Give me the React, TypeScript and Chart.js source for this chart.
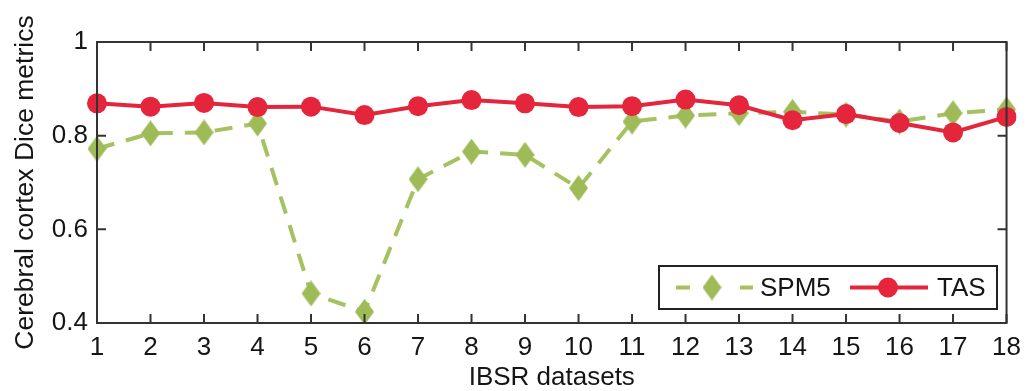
import React, { useEffect, useRef } from 'react';
import { Chart, registerables } from 'chart.js';

Chart.register(...registerables);

const datasetLabels = ['1', '2', '3', '4', '5', '6', '7', '8', '9', '10', '11', '12', '13', '14', '15', '16', '17', '18'];
const spm5Values = [0.772, 0.805, 0.807, 0.826, 0.463, 0.424, 0.707, 0.766, 0.759, 0.688, 0.83, 0.843, 0.848, 0.851, 0.845, 0.83, 0.848, 0.856];
const tasValues = [0.869, 0.862, 0.87, 0.861, 0.862, 0.844, 0.863, 0.876, 0.869, 0.861, 0.863, 0.877, 0.865, 0.833, 0.846, 0.827, 0.807, 0.84];
const yTickValues = [0.4, 0.6, 0.8, 1];
const seriesNames = ['SPM5', 'TAS'];
const axisTitles = { x: 'IBSR datasets', y: 'Cerebral cortex Dice metrics' };

const GREEN = '#a5c160';
const GREEN_MARK = '#9fbb58';
const RED = '#e4253c';
const FRAME = '#333333';
const TEXT = '#151515';
const FONT = "'Liberation Sans', Arial, sans-serif";

function makeDiamond(w: number, h: number, color: string): HTMLCanvasElement {
  const c = document.createElement('canvas');
  c.width = w;
  c.height = h;
  const ctx = c.getContext('2d')!;
  ctx.fillStyle = color;
  ctx.beginPath();
  ctx.moveTo(w / 2, 0);
  ctx.lineTo(w, h / 2);
  ctx.lineTo(w / 2, h);
  ctx.lineTo(0, h / 2);
  ctx.closePath();
  ctx.fill();
  return c;
}

const framePlugin = {
  id: 'matlabFrame',
  afterDatasetsDraw(chart: any) {
    const { ctx, chartArea } = chart;
    const { left, right, top, bottom } = chartArea;
    const xs = chart.scales.x;
    const ys = chart.scales.y;
    ctx.save();
    ctx.strokeStyle = FRAME;
    ctx.lineWidth = 2;
    ctx.strokeRect(left, top, right - left, bottom - top);
    const tl = 9;
    ctx.beginPath();
    datasetLabels.forEach((_, i) => {
      const px = xs.getPixelForValue(i);
      ctx.moveTo(px, bottom);
      ctx.lineTo(px, bottom - tl);
      ctx.moveTo(px, top);
      ctx.lineTo(px, top + tl);
    });
    yTickValues.forEach((v) => {
      const py = ys.getPixelForValue(v);
      ctx.moveTo(left, py);
      ctx.lineTo(left + tl, py);
      ctx.moveTo(right, py);
      ctx.lineTo(right - tl, py);
    });
    ctx.stroke();

    // legend box
    const bx = 659, by = 266, bw = 338, bh = 43;
    ctx.fillStyle = '#ffffff';
    ctx.fillRect(bx, by, bw, bh);
    ctx.strokeStyle = '#222222';
    ctx.lineWidth = 2;
    ctx.strokeRect(bx, by, bw, bh);
    const cy = by + bh / 2;
    // SPM5 sample
    ctx.strokeStyle = GREEN;
    ctx.lineWidth = 4;
    ctx.beginPath();
    ctx.moveTo(676, cy);
    ctx.lineTo(690, cy);
    ctx.moveTo(740, cy);
    ctx.lineTo(753, cy);
    ctx.stroke();
    ctx.drawImage(makeDiamond(19, 26, GREEN_MARK), 712 - 9.5, cy - 13);
    ctx.fillStyle = TEXT;
    ctx.font = `26px ${FONT}`;
    ctx.textBaseline = 'middle';
    ctx.textAlign = 'left';
    ctx.fillText(seriesNames[0], 760, cy + 1);
    // TAS sample
    ctx.strokeStyle = RED;
    ctx.lineWidth = 4;
    ctx.beginPath();
    ctx.moveTo(850, cy);
    ctx.lineTo(928, cy);
    ctx.stroke();
    ctx.fillStyle = RED;
    ctx.beginPath();
    ctx.arc(888, cy, 10, 0, Math.PI * 2);
    ctx.fill();
    ctx.fillStyle = TEXT;
    ctx.fillText(seriesNames[1], 937, cy + 1);
    ctx.restore();
  },
};

export default function App() {
  const canvasRef = useRef<HTMLCanvasElement | null>(null);

  useEffect(() => {
    if (!canvasRef.current) return;
    const diamond = makeDiamond(19, 26, GREEN_MARK);
    const chart = new Chart(canvasRef.current, {
      type: 'line',
      data: {
        labels: datasetLabels,
        datasets: [
          {
            label: seriesNames[0],
            data: spm5Values,
            borderColor: GREEN,
            borderWidth: 4,
            borderDash: [18, 12],
            pointStyle: diamond as any,
            pointRadius: 10,
            backgroundColor: GREEN_MARK,
            fill: false,
            tension: 0,
            order: 2,
          },
          {
            label: seriesNames[1],
            data: tasValues,
            borderColor: RED,
            borderWidth: 4,
            pointStyle: 'circle',
            pointRadius: 10,
            pointBackgroundColor: RED,
            pointBorderColor: RED,
            pointBorderWidth: 0,
            backgroundColor: RED,
            fill: false,
            tension: 0,
            order: 1,
          },
        ],
      },
      options: {
        responsive: false,
        animation: false,
        events: [],
        layout: { padding: { left: 0, right: 22, top: 42, bottom: 0 } },
        plugins: {
          legend: { display: false },
          tooltip: { enabled: false },
        },
        scales: {
          x: {
            type: 'category',
            offset: false,
            grid: { display: false, drawTicks: false },
            border: { display: false },
            ticks: {
              color: TEXT,
              font: { family: FONT, size: 26 },
              padding: 9,
              maxRotation: 0,
              autoSkip: false,
            },
            title: {
              display: true,
              text: axisTitles.x,
              color: TEXT,
              font: { family: FONT, size: 26, lineHeight: 1 },
              padding: 0,
            },
            afterFit: (s: any) => {
              s.height = 68;
            },
          },
          y: {
            type: 'linear',
            min: 0.4,
            max: 1,
            grid: { display: false, drawTicks: false },
            border: { display: false },
            afterBuildTicks: (s: any) => {
              s.ticks = yTickValues.map((v) => ({ value: v }));
            },
            ticks: {
              color: TEXT,
              font: { family: FONT, size: 26 },
              padding: 9,
              callback: (v: any) => String(Number(v)),
            },
            title: {
              display: true,
              text: axisTitles.y,
              color: TEXT,
              font: { family: FONT, size: 26.5, lineHeight: 1 },
              padding: { top: 12, bottom: 0 },
            },
            afterFit: (s: any) => {
              s.width = 97;
            },
          },
        },
      },
      plugins: [framePlugin],
    });
    return () => chart.destroy();
  }, []);

  return (
    <div style={{ position: 'absolute', left: 0, top: 0, width: 1030, height: 391, background: '#fff' }}>
      <canvas ref={canvasRef} width={1030} height={391} style={{ display: 'block' }} />
    </div>
  );
}
